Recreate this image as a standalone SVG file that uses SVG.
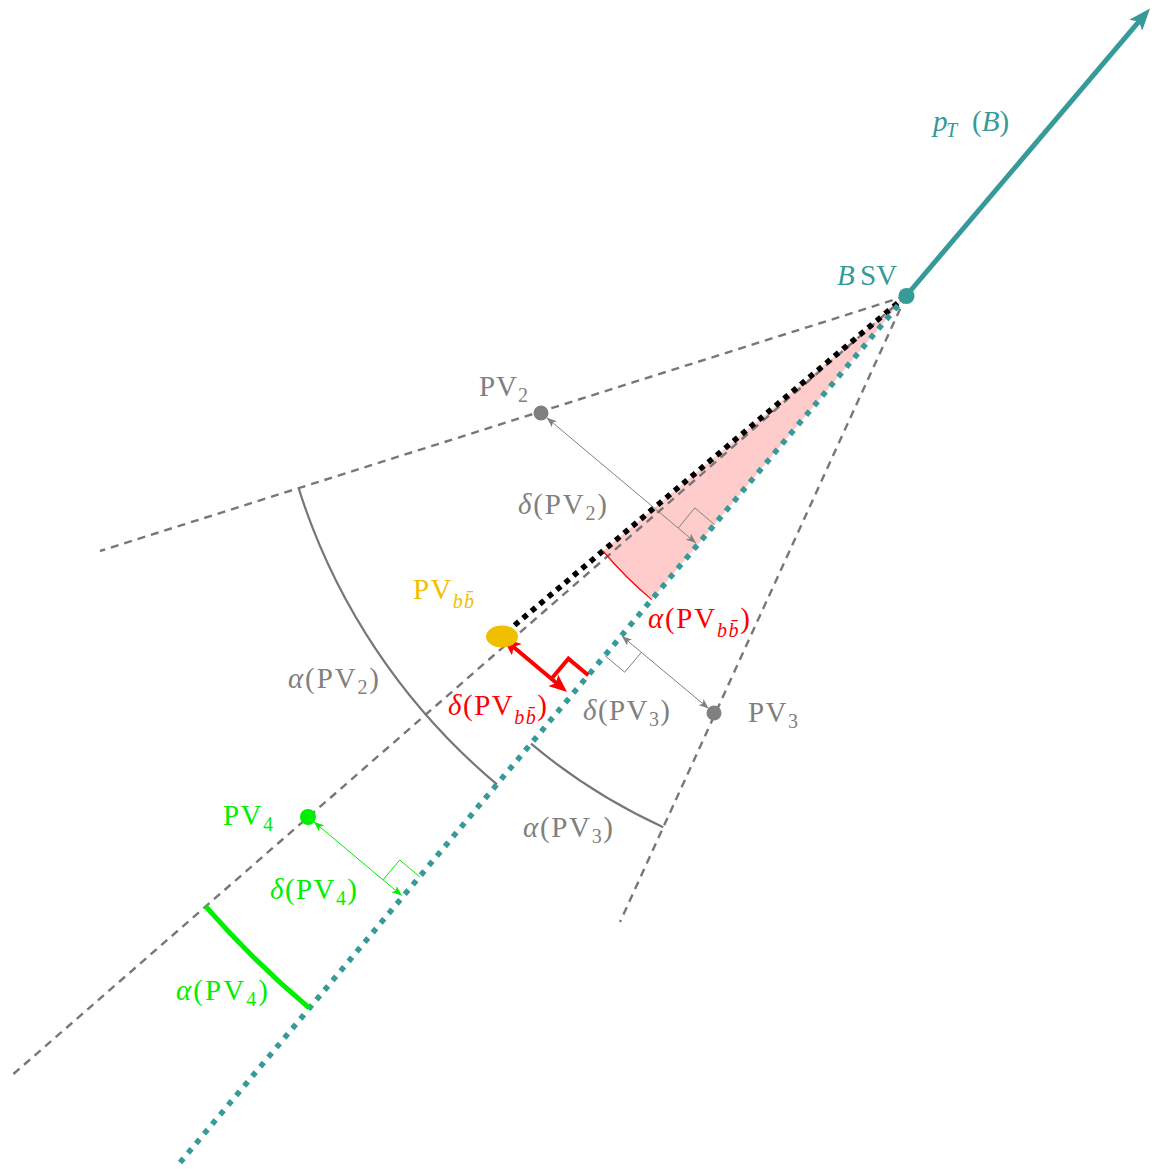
<svg xmlns="http://www.w3.org/2000/svg" width="1156" height="1169" viewBox="0 0 1156 1169">
<style>
.t{font-family:"Liberation Serif","Times New Roman",serif;font-size:29px}
.i{font-style:italic}
.s{font-size:20px}
.gray{fill:#808080}
.teal{fill:#359a98}
.red{fill:#ff0000}
.green{fill:#00ee00}
.gold{fill:#f0c000}
.dash{fill:none;stroke:#777;stroke-width:2.4;stroke-dasharray:8 6}
.dotk{fill:none;stroke:#000;stroke-width:5.5;stroke-dasharray:5.5 5.5}
.dott{fill:none;stroke:#359a98;stroke-width:5.5;stroke-dasharray:5.5 7}
.thin{fill:none;stroke-width:1}
</style>
<defs>
<marker id="ahG" viewBox="0 0 10 8" refX="10" refY="4" markerWidth="10" markerHeight="8" markerUnits="userSpaceOnUse" orient="auto-start-reverse"><path d="M0,0 L10,4 L0,8 L2.5,4 z" fill="#808080"/></marker>
<marker id="ahN" viewBox="0 0 10 8" refX="10" refY="4" markerWidth="10" markerHeight="8" markerUnits="userSpaceOnUse" orient="auto-start-reverse"><path d="M0,0 L10,4 L0,8 L2.5,4 z" fill="#00ee00"/></marker>
<marker id="ahR" viewBox="0 0 18 15" refX="10" refY="7.5" markerWidth="18" markerHeight="15" markerUnits="userSpaceOnUse" orient="auto-start-reverse"><path d="M0,0 L18,7.5 L0,15 L4,7.5 z" fill="#ff0000"/></marker>
<marker id="ahT" viewBox="0 0 22 17" refX="12" refY="8.5" markerWidth="22" markerHeight="17" markerUnits="userSpaceOnUse" orient="auto"><path d="M0,0 L22,8.5 L0,17 L5,8.5 z" fill="#359a98"/></marker>
</defs>

<path id="alpha-bb-fill" d="M906,296 L603,551 A396 396 0 0 0 651.7,599.6 Z" fill="#ffcccc"/>

<g id="connectors">
  <line class="dash" x1="906" y1="296" x2="100" y2="551"/>
  <line class="dash" x1="906" y1="296" x2="10" y2="1077"/>
  <line class="dash" x1="906" y1="296" x2="620" y2="922"/>
  <line class="dotk" x1="906" y1="296" x2="503" y2="635"/>
  <line class="dott" x1="906" y1="296" x2="178" y2="1165"/>
  <line x1="906" y1="296" x2="1143.5" y2="16.1" stroke="#359a98" stroke-width="5" marker-end="url(#ahT)"/>
  <path d="M603,551 A396 396 0 0 0 651.7,599.6" fill="none" stroke="#ff0000" stroke-width="1.2"/>
  <path d="M298.6,488.2 A637 637 0 0 0 496.9,784.3" fill="none" stroke="#777" stroke-width="2.2"/>
  <path d="M531,743.7 A584 584 0 0 0 663.3,827.2" fill="none" stroke="#777" stroke-width="2.2"/>
  <path d="M205.7,906.4 A929 929 0 0 0 309.4,1008.2" fill="none" stroke="#00ee00" stroke-width="5"/>
  <line class="thin" stroke="#808080" x1="546.8" y1="417.8" x2="696" y2="543" marker-start="url(#ahG)" marker-end="url(#ahG)"/>
  <polyline class="thin" stroke="#808080" points="678.5,527.8 694.8,507.9 714.6,524.6"/>
  <line class="thin" stroke="#808080" x1="708.6" y1="708.5" x2="622" y2="636.2" marker-start="url(#ahG)" marker-end="url(#ahG)"/>
  <polyline class="thin" stroke="#808080" points="604.8,655.5 624.7,672.2 641.4,652.3"/>
  <line class="thin" stroke="#00ee00" x1="314" y1="822" x2="401.8" y2="895.6" marker-start="url(#ahN)" marker-end="url(#ahN)"/>
  <polyline class="thin" stroke="#00ee00" points="383,879.9 399.7,860 419.6,876.7"/>
  <line x1="509.1" y1="643.2" x2="560.9" y2="686.8" stroke="#ff0000" stroke-width="4" marker-start="url(#ahR)" marker-end="url(#ahR)"/>
  <polyline points="551.7,678.5 568.4,658.6 588.3,675.3" fill="none" stroke="#ff0000" stroke-width="4"/>
</g>

<g id="SV">
  <circle cx="906.5" cy="296" r="8" fill="#359a98"/>
  <text class="t teal" x="837" y="285"><tspan class="i">B</tspan><tspan x="860">SV</tspan></text>
</g>
<g id="pT">
  <text class="t teal" x="933" y="131"><tspan class="i">p</tspan><tspan class="i s" x="946" dy="6">T</tspan><tspan x="972" dy="-6">(</tspan><tspan class="i">B</tspan>)</text>
</g>
<g id="PV2">
  <circle cx="541" cy="413" r="7.5" fill="#808080"/>
  <text class="t gray" x="479" y="396" textLength="49">PV<tspan class="s" dy="6">2</tspan></text>
  <text class="t gray" x="518" y="514" textLength="89"><tspan class="i">δ</tspan>(PV<tspan class="s" dy="6">2</tspan><tspan dy="-6">)</tspan></text>
  <text class="t gray" x="288" y="688" textLength="91"><tspan class="i">α</tspan>(PV<tspan class="s" dy="6">2</tspan><tspan dy="-6">)</tspan></text>
</g>
<g id="PV3">
  <circle cx="714" cy="713" r="7.5" fill="#808080"/>
  <text class="t gray" x="748" y="722" textLength="50">PV<tspan class="s" dy="6">3</tspan></text>
  <text class="t gray" x="583" y="720" textLength="87"><tspan class="i">δ</tspan>(PV<tspan class="s" dy="6">3</tspan><tspan dy="-6">)</tspan></text>
  <text class="t gray" x="523" y="837" textLength="90"><tspan class="i">α</tspan>(PV<tspan class="s" dy="6">3</tspan><tspan dy="-6">)</tspan></text>
</g>
<g id="PV4">
  <circle cx="308" cy="817" r="8" fill="#00ee00"/>
  <text class="t green" x="223" y="825" textLength="50">PV<tspan class="s" dy="6">4</tspan></text>
  <text class="t green" x="270" y="899" textLength="87"><tspan class="i">δ</tspan>(PV<tspan class="s" dy="6">4</tspan><tspan dy="-6">)</tspan></text>
  <text class="t green" x="176" y="1000" textLength="92"><tspan class="i">α</tspan>(PV<tspan class="s" dy="6">4</tspan><tspan dy="-6">)</tspan></text>
</g>
<g id="PVbb">
  <ellipse cx="502" cy="636.5" rx="16" ry="11" fill="#f0c000"/>
  <text class="t gold" x="413" y="599" textLength="61">PV<tspan class="i s" dy="9">bb̄</tspan></text>
  <text class="t red" x="648" y="628" textLength="102"><tspan class="i">α</tspan>(PV<tspan class="i s" dy="9">bb̄</tspan><tspan dy="-9">)</tspan></text>
  <text class="t red" x="448" y="715" textLength="99"><tspan class="i">δ</tspan>(PV<tspan class="i s" dy="9">bb̄</tspan><tspan dy="-9">)</tspan></text>
</g>
</svg>
